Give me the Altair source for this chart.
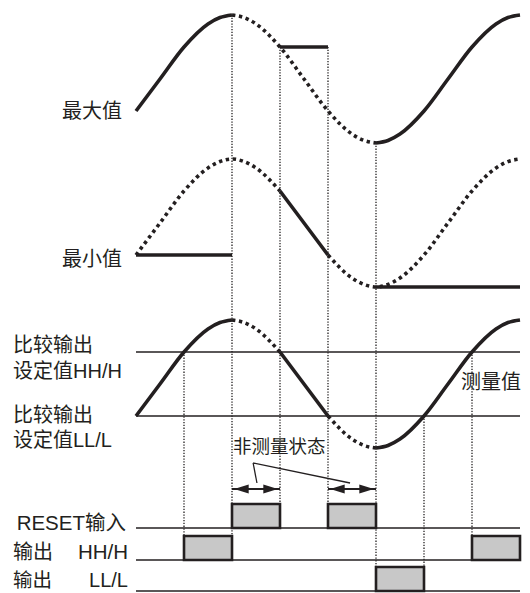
import altair as alt
import pandas as pd

# ---------------- data ----------------
# measured value against time (time units 0..8, value 0 = minimum, 100 = maximum)
wave_t = [0, 0.5, 1, 1.5, 1.75, 2, 2.25, 2.5, 3, 3.5, 4, 4.5, 4.75, 5, 5.25, 5.5, 6, 6.5, 7, 7.5, 7.75, 8]
wave_v = [25, 50, 75, 93, 98, 100, 98, 93, 75, 50, 25, 7, 2, 0, 2, 7, 25, 50, 75, 93, 98, 100]

HH_SET = 75
LL_SET = 25

# pieces of the measured curve shown on each track: track, start, end, style
seg_track = ["max", "max", "max", "min", "min", "min", "cmp", "cmp", "cmp", "cmp", "cmp"]
seg_t0 = [0, 2, 5, 0, 3, 4, 0, 2, 3, 4, 5]
seg_t1 = [2, 5, 8, 3, 4, 8, 2, 3, 4, 5, 8]
seg_style = ["solid", "dotted", "solid", "dotted", "solid", "dotted",
             "solid", "dotted", "solid", "dotted", "solid"]

# held display values
hold_track = ["max", "min", "min"]
hold_t0 = [3, 0, 5]
hold_t1 = [4, 2, 8]
hold_value = [75, 25, 0]

# digital signals (on intervals)
reset_t0, reset_t1 = [2, 4], [3, 5]
hh_t0, hh_t1 = [1, 7], [2, 8]
ll_t0, ll_t1 = [5], [6]

# vertical guides: time, from (track, value), to signal
guide_t = [2, 3, 4, 5, 1, 6, 7]
guide_track = ["max", "max", "max", "max", "cmp", "cmp", "cmp"]
guide_value = [100, 75, 75, 0, 75, 25, 75]
guide_sig = ["hh", "reset", "reset", "ll", "hh", "ll", "hh"]

# ---------------- layout ----------------
INK = "#231f20"
GRAY = "#c8c8c8"
FONT = "Liberation Sans, Noto Sans CJK SC, sans-serif"
TRACK_ZERO = {"max": 143, "min": 287, "cmp": 448}
UNIT = 1.28
SIG_ZERO = {"reset": 528, "hh": 560, "ll": 591}
SIG_H = 24


def ypos(track, v):
    return TRACK_ZERO[track] - v * UNIT


def spos(sig, level):
    return SIG_ZERO[sig] - level * SIG_H


XS = alt.Scale(domain=[0, 8], range=[128, 512])
YS = alt.Scale(domain=[8, 593], range=[0, 585])

rows = []
for i, (tr, a, b, st) in enumerate(zip(seg_track, seg_t0, seg_t1, seg_style)):
    for t, v in zip(wave_t, wave_v):
        if a <= t <= b:
            rows.append({"seg": i, "style": st, "t": t, "y": ypos(tr, v)})
for j, (tr, a, b, v) in enumerate(zip(hold_track, hold_t0, hold_t1, hold_value)):
    for t in (a, b):
        rows.append({"seg": 100 + j, "style": "solid", "t": t, "y": ypos(tr, v)})
curves = pd.DataFrame(rows)

solid = alt.Chart(curves[curves["style"] == "solid"]).mark_line(
    interpolate="monotone", strokeWidth=3.6, color=INK
).encode(
    x=alt.X("t:Q", scale=XS, axis=None),
    y=alt.Y("y:Q", scale=YS, axis=None),
    detail="seg:N", order="t:Q",
)
dotted = alt.Chart(curves[curves["style"] == "dotted"]).mark_line(
    interpolate="monotone", strokeWidth=3.6, color=INK, strokeDash=[3.4, 3.6]
).encode(
    x=alt.X("t:Q", scale=XS, axis=None),
    y=alt.Y("y:Q", scale=YS, axis=None),
    detail="seg:N", order="t:Q",
)

# thin horizontal lines: thresholds and signal baselines
hl = pd.DataFrame({
    "t0": [0] * 5, "t1": [8] * 5,
    "y": [ypos("cmp", HH_SET), ypos("cmp", LL_SET), spos("reset", 0), spos("hh", 0), spos("ll", 0)],
})
hlines = alt.Chart(hl).mark_rule(strokeWidth=1.6, color=INK).encode(
    x=alt.X("t0:Q", scale=XS, axis=None), x2="t1:Q",
    y=alt.Y("y:Q", scale=YS, axis=None),
)

# guides
gd = pd.DataFrame({
    "t": guide_t,
    "y0": [ypos(tr, v) for tr, v in zip(guide_track, guide_value)],
    "y1": [spos(s, 1) for s in guide_sig],
})
guides = alt.Chart(gd).mark_rule(strokeWidth=1.3, color=INK, strokeDash=[1.3, 1.5]).encode(
    x=alt.X("t:Q", scale=XS, axis=None),
    y=alt.Y("y0:Q", scale=YS, axis=None), y2="y1:Q",
)

# signal boxes
bx = pd.DataFrame({
    "t0": reset_t0 + hh_t0 + ll_t0,
    "t1": reset_t1 + hh_t1 + ll_t1,
    "sig": ["reset"] * len(reset_t0) + ["hh"] * len(hh_t0) + ["ll"] * len(ll_t0),
})
bx["ytop"] = [spos(s, 1) for s in bx["sig"]]
bx["ybot"] = [spos(s, 0) for s in bx["sig"]]
boxes = alt.Chart(bx).mark_rect(fill=GRAY, stroke=INK, strokeWidth=2.6).encode(
    x=alt.X("t0:Q", scale=XS, axis=None), x2="t1:Q",
    y=alt.Y("ytop:Q", scale=YS, axis=None), y2="ybot:Q",
)

# non-measurement arrows (same spans as RESET input)
ARROW_Y = 489
ar = pd.DataFrame({"t0": reset_t0, "t1": reset_t1, "y": [ARROW_Y] * len(reset_t0)})
shafts = alt.Chart(ar).mark_rule(strokeWidth=2.2, color=INK).encode(
    x=alt.X("t0:Q", scale=XS, axis=None), x2="t1:Q",
    y=alt.Y("y:Q", scale=YS, axis=None),
)
heads_l = alt.Chart(ar).mark_point(
    shape="M 0.3 0 L 2.3 -0.62 L 2.3 0.62 Z", size=210, filled=True, color=INK, opacity=1, strokeWidth=0
).encode(x=alt.X("t0:Q", scale=XS, axis=None), y=alt.Y("y:Q", scale=YS, axis=None))
heads_r = alt.Chart(ar).mark_point(
    shape="M -0.3 0 L -2.3 -0.62 L -2.3 0.62 Z", size=210, filled=True, color=INK, opacity=1, strokeWidth=0
).encode(x=alt.X("t1:Q", scale=XS, axis=None), y=alt.Y("y:Q", scale=YS, axis=None))

# leader lines from the label to the arrows
ld = pd.DataFrame({"t0": [2.44, 2.44], "t1": [2.52, 4.46], "y0": [463, 463], "y1": [483, 483]})
leaders = alt.Chart(ld).mark_rule(strokeWidth=1.3, color=INK).encode(
    x=alt.X("t0:Q", scale=XS, axis=None), x2="t1:Q",
    y=alt.Y("y0:Q", scale=YS, axis=None), y2="y1:Q",
)

# text labels: text, x, y (reference pixels), align, size
labels = [
    ("最大值", 122, 112, "right", 20),
    ("最小值", 122, 260, "right", 20),
    ("比较输出", 13, 346, "left", 20),
    ("设定值HH/H", 13, 372, "left", 20),
    ("比较输出", 13, 416, "left", 20),
    ("设定值LL/L", 13, 441, "left", 20),
    ("非测量状态", 233, 447, "left", 18.5),
    ("测量值", 521, 383, "right", 20),
    ("RESET输入", 126, 524, "right", 20.5),
    ("输出", 13, 553, "left", 20),
    ("HH/H", 128, 553, "right", 20.5),
    ("输出", 13, 581, "left", 19.5),
    ("LL/L", 128, 581, "right", 20),
]
texts = []
for s, px, py, al, fs in labels:
    texts.append(
        alt.Chart(pd.DataFrame({"label": [s]})).mark_text(
            align=al, baseline="middle", font=FONT, fontSize=fs, color=INK
        ).encode(text="label:N", x=alt.value(px - 8), y=alt.value(py - 8))
    )

chart = alt.layer(
    guides, hlines, boxes, shafts, heads_l, heads_r, leaders, dotted, solid, *texts
).properties(
    width=514, height=585, padding=0,
    autosize=alt.AutoSizeParams(type="none"),
).configure_view(stroke=None)

chart.save("out.html", embed_options={"renderer": "svg", "actions": False})
